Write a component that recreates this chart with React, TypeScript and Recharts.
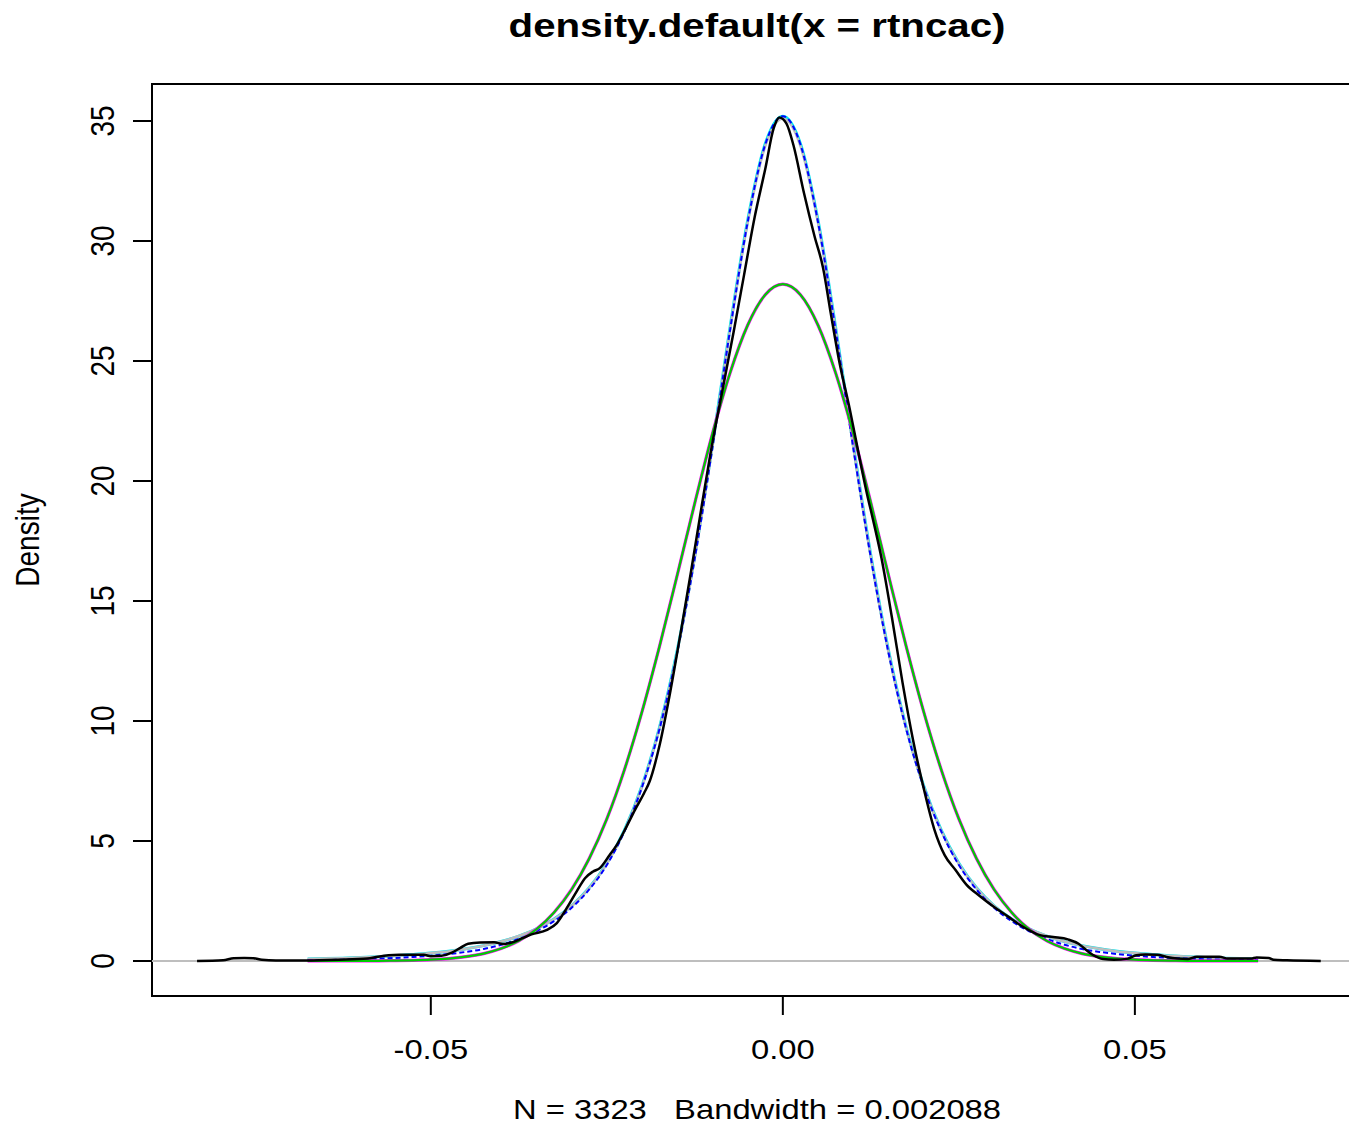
import React from "react";
import { LineChart, Line, XAxis, YAxis, ReferenceLine, ReferenceArea } from "recharts";

// shared x grid of the fitted densities
const fitX = [
  -0.0675, -0.065, -0.0625, -0.06, -0.0575, -0.055, -0.0525, -0.05, -0.0475, -0.045, -0.0425, -0.04, -0.0375, -0.035,
  -0.0325, -0.03, -0.0275, -0.025, -0.0225, -0.02, -0.0175, -0.015, -0.0125, -0.01, -0.0075, -0.005, -0.0025, 0,
  0.0025, 0.005, 0.0075, 0.01, 0.0125, 0.015, 0.0175, 0.02, 0.0225, 0.025, 0.0275, 0.03, 0.0325, 0.035,
  0.0375, 0.04, 0.0425, 0.045, 0.0475, 0.05, 0.0525, 0.055, 0.0575, 0.06, 0.0625, 0.065, 0.0675,
];

// normal fit (magenta / green)
const normalY = [
  0.0004, 0.001, 0.002, 0.004, 0.007, 0.015, 0.029, 0.055, 0.1, 0.18, 0.31, 0.52, 0.84, 1.32,
  2.02, 2.98, 4.27, 5.92, 7.97, 10.39, 13.13, 16.08, 19.09, 21.97, 24.5, 26.49, 27.76, 28.2,
  27.76, 26.49, 24.5, 21.97, 19.09, 16.08, 13.13, 10.39, 7.97, 5.92, 4.27, 2.98, 2.02, 1.32,
  0.84, 0.52, 0.31, 0.18, 0.1, 0.055, 0.029, 0.015, 0.007, 0.004, 0.002, 0.001, 0.0004,
];

// heavy tailed fits (blue dashed, cyan, gray)
const blueY = [
  0.032, 0.042, 0.056, 0.075, 0.1, 0.13, 0.17, 0.22, 0.29, 0.38, 0.5, 0.68, 0.92, 1.24,
  1.66, 2.22, 2.98, 4.0, 5.4, 7.25, 9.69, 12.86, 16.8, 21.39, 26.28, 30.78, 34.02, 35.2,
  34.02, 30.78, 26.28, 21.39, 16.8, 12.86, 9.69, 7.25, 5.4, 4.0, 2.98, 2.22, 1.66, 1.24,
  0.92, 0.68, 0.5, 0.38, 0.29, 0.22, 0.17, 0.13, 0.1, 0.075, 0.056, 0.042, 0.032,
];

const grayY = [
  0.087, 0.1, 0.12, 0.15, 0.18, 0.22, 0.26, 0.33, 0.4, 0.51, 0.64, 0.81, 1.04, 1.34,
  1.74, 2.29, 3.04, 4.05, 5.42, 7.26, 9.71, 12.88, 16.82, 21.42, 26.3, 30.75, 33.95, 35.1,
  33.95, 30.75, 26.3, 21.42, 16.82, 12.88, 9.71, 7.26, 5.42, 4.05, 3.04, 2.29, 1.74, 1.34,
  1.04, 0.81, 0.64, 0.51, 0.4, 0.33, 0.26, 0.22, 0.18, 0.15, 0.12, 0.1, 0.087,
];

const cyanY = [
  0.087, 0.1, 0.12, 0.15, 0.18, 0.22, 0.27, 0.33, 0.41, 0.51, 0.64, 0.81, 1.04, 1.34,
  1.75, 2.3, 3.05, 4.07, 5.45, 7.3, 9.76, 12.95, 16.9, 21.5, 26.4, 30.85, 34.05, 35.2,
  34.05, 30.85, 26.4, 21.5, 16.9, 12.95, 9.76, 7.3, 5.45, 4.07, 3.05, 2.3, 1.75, 1.34,
  1.04, 0.81, 0.64, 0.51, 0.41, 0.33, 0.27, 0.22, 0.18, 0.15, 0.12, 0.1, 0.087,
];

// kernel density of rtncac (black)
const kdeX = [
  -0.0832, -0.0795, -0.078, -0.0765, -0.0752, -0.074, -0.072, -0.068, -0.063, -0.059, -0.0575, -0.056, -0.0545, -0.051,
  -0.05, -0.0485, -0.047, -0.0458, -0.0447, -0.043, -0.041, -0.0398, -0.0384, -0.037, -0.0357, -0.0335, -0.0321, -0.0307,
  -0.0293, -0.0281, -0.027, -0.026, -0.0246, -0.0236, -0.0222, -0.021, -0.0197, -0.0189, -0.0175, -0.016, -0.0145, -0.013,
  -0.0115, -0.01, -0.0085, -0.007, -0.0055, -0.004, -0.0025, -0.0013, -0.0005, 0.0005, 0.0015, 0.003, 0.0045,
  0.0057, 0.0068, 0.008, 0.0095, 0.011, 0.012, 0.0128, 0.014, 0.0155, 0.017, 0.0185, 0.02, 0.0215, 0.023,
  0.0245, 0.0261, 0.028, 0.03, 0.032, 0.0337, 0.0365, 0.0384, 0.0405, 0.042, 0.043, 0.044, 0.0455, 0.047,
  0.049, 0.0502, 0.0515, 0.0532, 0.0545, 0.056, 0.0575, 0.0588, 0.062, 0.0632, 0.0665, 0.0673, 0.069, 0.0697,
  0.0716, 0.0764,
];
const kdeY = [
  0, 0.03, 0.12, 0.13, 0.12, 0.05, 0.02, 0.02, 0.05, 0.1, 0.18, 0.24, 0.26, 0.26,
  0.2, 0.22, 0.35, 0.55, 0.72, 0.77, 0.78, 0.71, 0.78, 0.95, 1.11, 1.3, 1.58, 2.2,
  2.89, 3.45, 3.72, 3.87, 4.42, 4.83, 5.6, 6.3, 7.0, 7.5, 9.0, 11.2, 13.7, 16.3,
  19.0, 21.6, 23.9, 26.2, 28.6, 31.0, 33.0, 34.7, 35.15, 34.9, 34.0, 32.0, 30.2,
  28.9, 27.0, 25.0, 23.0, 20.8, 19.4, 18.4, 16.8, 14.3, 11.6, 9.2, 7.2, 5.5, 4.4,
  3.8, 3.17, 2.7, 2.25, 1.85, 1.5, 1.08, 1.0, 0.9, 0.72, 0.48, 0.26, 0.08, 0.05,
  0.1, 0.24, 0.27, 0.26, 0.17, 0.1, 0.08, 0.18, 0.18, 0.1, 0.1, 0.15, 0.13, 0.05,
  0.03, 0,
];

const xTicks = [-0.05, 0, 0.05];
const yTicks = [0, 5, 10, 15, 20, 25, 30, 35];
const xDomain = [-0.0896, 0.0824];
const yDomain = [-1.458, 36.542];

const title = "density.default(x = rtncac)";
const subtitle = "N = 3323   Bandwidth = 0.002088";

const font = "'Liberation Sans', Arial, Helvetica, sans-serif";
const stretch = 1.17;

const pairs = (xs: number[], ys: number[]) => xs.map((x, i) => ({ x, y: ys[i] }));

const XTick = (props: any) => {
  const { x, y, payload } = props;
  return (
    <g transform={`translate(${x},${y + 32}) scale(${stretch},1)`}>
      <text textAnchor="middle" dy="0.35em" fontSize={28} fontFamily={font} fill="#000">
        {payload.value.toFixed(2)}
      </text>
    </g>
  );
};

const YTick = (props: any) => {
  const { x, y, payload } = props;
  return (
    <g transform={`translate(${x - 28},${y}) scale(${stretch},1) rotate(-90)`}>
      <text textAnchor="middle" dy="0.35em" fontSize={28} fontFamily={font} fill="#000">
        {payload.value}
      </text>
    </g>
  );
};

export default function App() {
  const normal = pairs(fitX, normalY);
  const blue = pairs(fitX, blueY);
  const gray = pairs(fitX, grayY);
  const cyan = pairs(fitX, cyanY);
  const kde = pairs(kdeX, kdeY);

  return (
    <div style={{ position: "fixed", left: 0, top: 0, width: 1349, height: 1125, overflow: "hidden", background: "#fff" }}>
      <LineChart width={1380} height={1125} margin={{ top: 84, right: 17, bottom: 69, left: 52 }}>
        <ReferenceLine y={0} stroke="#bebebe" strokeWidth={2} ifOverflow="visible" />
        <XAxis
          dataKey="x"
          type="number"
          domain={xDomain}
          allowDataOverflow
          ticks={xTicks}
          height={60}
          axisLine={false}
          tickLine={{ stroke: "#000", strokeWidth: 2 }}
          tickSize={19}
          tickMargin={2}
          tick={<XTick />}
        />
        <YAxis
          type="number"
          domain={yDomain}
          allowDataOverflow
          ticks={yTicks}
          width={100}
          axisLine={false}
          tickLine={{ stroke: "#000", strokeWidth: 2 }}
          tickSize={19}
          tickMargin={2}
          tick={<YTick />}
        />
        <Line data={cyan} dataKey="y" type="monotone" stroke="#00e5ee" strokeWidth={3} dot={false} isAnimationActive={false} />
        <Line data={gray} dataKey="y" type="monotone" stroke="#bebebe" strokeWidth={2.5} dot={false} isAnimationActive={false} />
        <Line data={blue} dataKey="y" type="monotone" stroke="#0000ff" strokeWidth={2} strokeDasharray="5 3" dot={false} isAnimationActive={false} />
        <Line data={normal} dataKey="y" type="monotone" stroke="#ff00ff" strokeWidth={3.2} dot={false} isAnimationActive={false} />
        <Line data={normal} dataKey="y" type="monotone" stroke="#00cd00" strokeWidth={2.2} dot={false} isAnimationActive={false} />
        <Line data={kde} dataKey="y" type="monotone" stroke="#000" strokeWidth={2.5} dot={false} isAnimationActive={false} />
        <ReferenceArea
          x1={xDomain[0]}
          x2={xDomain[1]}
          y1={yDomain[0]}
          y2={yDomain[1]}
          fill="none"
          fillOpacity={0}
          stroke="#000"
          strokeWidth={2}
          ifOverflow="visible"
        />
      </LineChart>
      <svg width={1349} height={1125} style={{ position: "absolute", left: 0, top: 0, pointerEvents: "none" }}>
        <g transform="translate(757,37) scale(1.22,1)">
          <text textAnchor="middle" fontSize={33} fontWeight="bold" fontFamily={font} fill="#000">
            {title}
          </text>
        </g>
        <g transform={`translate(757,1119) scale(${stretch},1)`}>
          <text textAnchor="middle" fontSize={28} fontFamily={font} fill="#000" xmlSpace="preserve" style={{ whiteSpace: "pre" }}>
            {subtitle}
          </text>
        </g>
        <g transform={`translate(39,540) scale(${stretch},1) rotate(-90)`}>
          <text textAnchor="middle" fontSize={28} fontFamily={font} fill="#000">
            Density
          </text>
        </g>
      </svg>
    </div>
  );
}
